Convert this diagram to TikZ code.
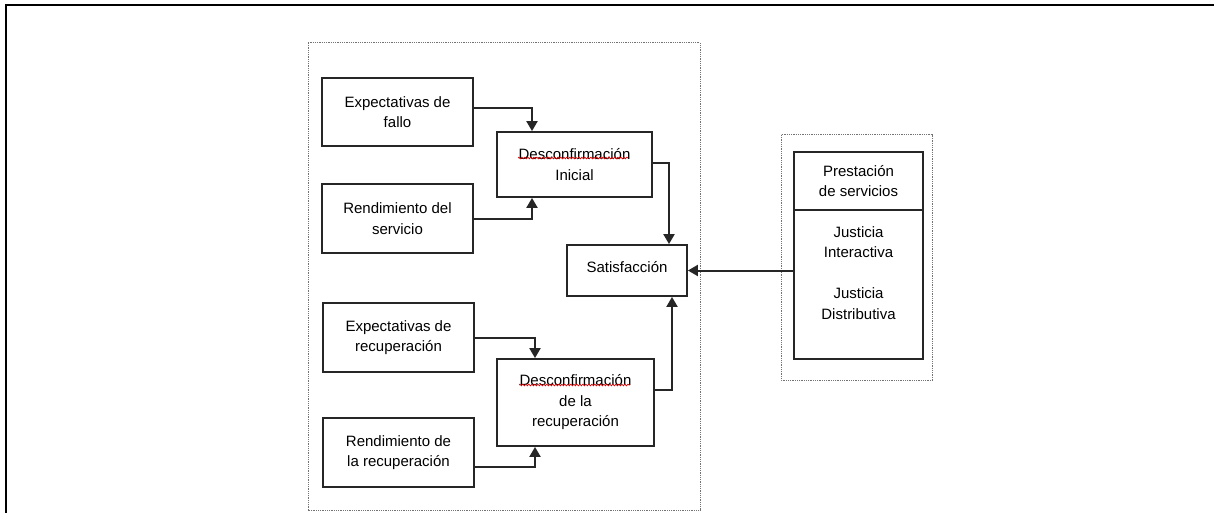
\documentclass[tikz,border=0pt]{standalone}
\usepackage{fontspec}
\setmainfont{Liberation Sans}
\usetikzlibrary{arrows.meta,decorations.pathmorphing}

\tikzset{
  box/.style={draw=black!85, line width=1.8pt, align=center, inner sep=0pt,
              font=\fontsize{15}{20.5}\selectfont},
  txt/.style={align=center, inner sep=0pt, font=\fontsize{15}{20.5}\selectfont},
  group/.style={draw=black!55, line width=1pt, dash pattern=on 1pt off 0.8pt},
  arr/.style={draw=black!85, line width=2pt, -{Triangle[length=10pt,width=11pt]}},
  squiggle/.style={draw=red!85!black, line width=0.7pt,
                   decorate, decoration={snake, amplitude=0.8pt, segment length=3pt}},
}

\begin{document}
\begin{tikzpicture}[x=1pt,y=-1pt]
\useasboundingbox (0,0) rectangle (1214,513);

% page frame
\draw[line width=2pt] (6,515) -- (6,5) -- (1216,5);

% dotted groups
\draw[group] (308,43) rectangle (700,510);
\draw[group] (781,135) rectangle (932,380);

% left column
\node[box, minimum width=151pt, minimum height=68pt] (fallo) at (397.5,112) {Expectativas de\\fallo};
\node[box, minimum width=151pt, minimum height=69pt] (serv) at (397.5,218.5) {Rendimiento del\\servicio};
\node[box, minimum width=151pt, minimum height=69pt] (exprec) at (398.5,337.5) {Expectativas de\\recuperación};
\node[box, minimum width=151pt, minimum height=69pt] (rendrec) at (398.5,452.5) {Rendimiento de\\la recuperación};

% disconfirmation boxes
\node[box, minimum width=155pt, minimum height=65pt] (dini) at (574.5,164.5) {Desconfirmación\\Inicial};
\node[box, minimum width=157pt, minimum height=87pt] (drec) at (575.5,402.5) {Desconfirmación\\de la\\recuperación};

% outcome
\node[box, minimum width=120pt, minimum height=51pt, text depth=8pt] (satis) at (627,270.5) {Satisfacción};

% service delivery panel: header cell on top of the body cell
\node[box, outer sep=0pt, minimum width=129pt, minimum height=58pt] (prest) at (858.5,181) {Prestación\\de servicios};
\node[box, outer sep=0pt, minimum width=129pt, minimum height=149pt, anchor=north] (just) at (prest.south) {};
\node[txt, anchor=north] (justtxt) at ([yshift=-16pt]just.north)
  {Justicia\\Interactiva\\[20.5pt]Justicia\\Distributiva};

% spell-check marks
\draw[squiggle] ([xshift=-56.5pt,yshift=6.5pt]dini.center) -- ([xshift=53.5pt,yshift=6.5pt]dini.center);
\draw[squiggle] ([xshift=-56.5pt,yshift=17.5pt]drec.center) -- ([xshift=54.5pt,yshift=17.5pt]drec.center);

% connectors
\draw[arr] ([yshift=4pt]fallo.east) -| ([xshift=-42.5pt]dini.north);
\draw[arr] (serv.east) -| ([xshift=-42.5pt]dini.south);
\draw[arr] ([yshift=1.5pt]dini.east) -| ([xshift=42pt]satis.north);
\draw[arr] (exprec.east) -| ([xshift=-40.5pt]drec.north);
\draw[arr] ([yshift=-14.5pt]rendrec.east) -| ([xshift=-40.5pt]drec.south);
\draw[arr] ([yshift=12.5pt]drec.east) -| ([xshift=45pt]satis.south);
\draw[arr] (just.west |- satis.east) -- (satis.east);
\end{tikzpicture}
\end{document}
